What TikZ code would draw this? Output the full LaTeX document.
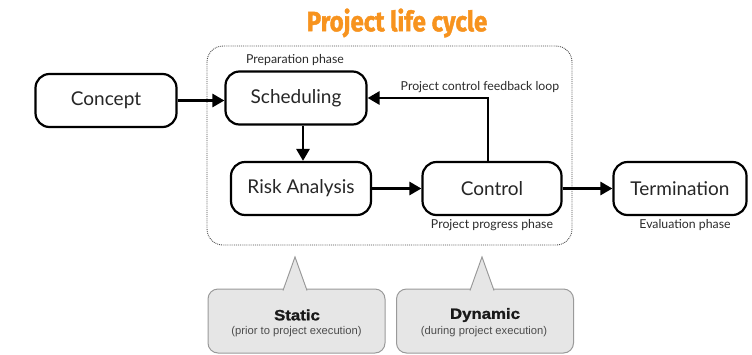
\documentclass[tikz,border=0pt]{standalone}
\usepackage{fontspec}
\setmainfont{Lato}
\newfontfamily\titlefont[FakeBold=1.6]{Fira Sans Bold}
\newfontfamily\calloutfont{Liberation Sans}
\newfontfamily\calloutheavy[FakeBold=1.2]{Liberation Sans Bold}
\usetikzlibrary{arrows.meta}
\definecolor{titleorange}{HTML}{F7931E}
\definecolor{calloutfill}{HTML}{E6E6E6}
\definecolor{calloutline}{HTML}{9A9A9A}
\definecolor{labelgray}{HTML}{2A2A2A}
\begin{document}
\begin{tikzpicture}[x=1pt,y=-1pt,
  stage/.style={draw=black,line width=2.2pt,rounded corners=14pt,fill=white,
    font=\fontsize{19}{22}\selectfont,text=black!85,inner sep=0pt},
  flow/.style={line width=2.8pt,-{Triangle[length=12pt,width=13pt]}},
  phase/.style={font=\fontsize{12.3}{14}\selectfont,text=labelgray,inner sep=0pt},
  callout/.style={draw=calloutline,line width=1pt,fill=calloutfill,rounded corners=10pt,
    minimum width=177pt,minimum height=64pt,align=center,inner sep=0pt},
  calloutedge/.style={draw=calloutline,line width=1pt,fill=calloutfill},
  callouthead/.style={font=\calloutheavy\fontsize{15}{17}\selectfont,text=black!90,inner sep=0pt},
  calloutsub/.style={font=\calloutfont\fontsize{11.2}{13}\selectfont,text=black!70,inner sep=0pt}]
\useasboundingbox (0,0) rectangle (752,354);

% title
\node (title) at (397,23) {\titlefont\color{titleorange}\fontsize{28}{30}\selectfont\scalebox{0.86}[1]{Project life cycle}};

% project execution frame
\draw[densely dotted,line width=0.9pt,black!70,rounded corners=16pt] (207,46) rectangle (572,245);

% stages
\node[stage,minimum width=141pt,minimum height=53pt] (concept) at (106,100.5) {Concept};
\node[stage,minimum width=141pt,minimum height=53pt] (sched) at (296,98) {Scheduling};
\node[stage,minimum width=140pt,minimum height=53pt] (risk) at (301,188.5) {Risk Analysis};
\node[stage,minimum width=139pt,minimum height=53pt] (control) at (492,188.5) {Control};
\node[stage,minimum width=133pt,minimum height=53pt] (term) at (680,188.5) {Termination};

% phase labels
\node[phase] (prep) at (295,60) {Preparation phase};
\node[phase] (progress) at (492,225) {Project progress phase};
\node[phase] (evaluation) at (685,225) {Evaluation phase};
\node[phase] (loop) at (480,87) {Project control feedback loop};

% connectors
\draw[flow] (concept.east) -- (sched.west |- concept.east);
\draw[flow] (sched.south -| 303,0) -- (risk.north -| 303,0);
\draw[flow] (risk.east) -- (control.west);
\draw[flow] (control.east) -- (term.west);
\coordinate (bend) at (488,98);
\draw[flow] (control.north -| bend) -- (bend) -- (sched.east);

% callouts
\node[callout] (static) at (296.5,321) {};
\node[callout] (dynamic) at (485,321) {};
\path[calloutedge] (283,290.5) -- (295,257) -- (307,290.5);
\fill[calloutfill] (284.2,290) -- (295,260) -- (305.8,290) -- (305.8,291.5) -- (284.2,291.5) -- cycle;
\path[calloutedge] (470,290.5) -- (482,257) -- (494,290.5);
\fill[calloutfill] (471.2,290) -- (482,260) -- (492.8,290) -- (492.8,291.5) -- (471.2,291.5) -- cycle;
\node[callouthead] (statictitle) at (297,315) {\scalebox{1.12}[1]{Static}};
\node[calloutsub] (staticsub) at (296.5,332) {(prior to project execution)};
\node[callouthead] (dynamictitle) at (485,315) {\scalebox{1.12}[1]{Dynamic}};
\node[calloutsub] (dynamicsub) at (484,332) {(during project execution)};
\end{tikzpicture}
\end{document}
